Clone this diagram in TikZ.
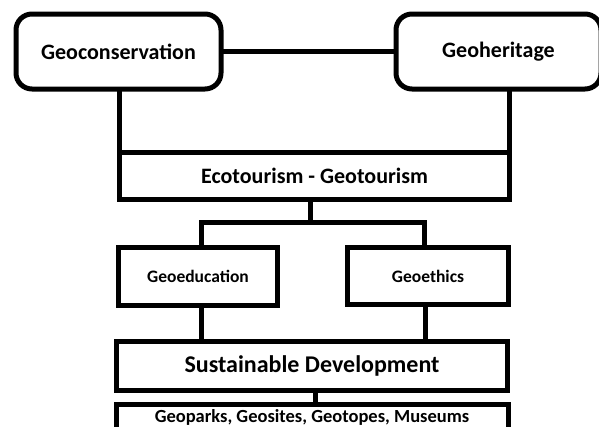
\documentclass[tikz,border=0pt]{standalone}
\usepackage{fontspec}
\setmainfont{Carlito}
\usetikzlibrary{calc}

\begin{document}
\begin{tikzpicture}[
        x=1pt, y=-1pt,
        box/.style={draw, line width=5pt, outer sep=0pt, inner sep=0pt},
        roundbox/.style={box, rounded corners=16pt},
        link/.style={line width=5pt},
        bigtext/.style={font=\bfseries\fontsize{22}{26}\selectfont},
        midtext/.style={font=\bfseries\fontsize{17.5}{21}\selectfont},
        smalltext/.style={font=\bfseries\fontsize{18.5}{22}\selectfont}
    ]
        \useasboundingbox (0,0) rectangle (599,426);

        % Top boxes
        \node[roundbox, bigtext, minimum width=205pt, minimum height=75pt] (geocons) at (118.5,51.5) {Geoconservation};
        \node[roundbox, bigtext, minimum width=205pt, minimum height=75pt] (geoher) at (498.5,51.5) {Geoheritage};

        % Middle boxes
        \node[box, bigtext, minimum width=390pt, minimum height=47.5pt] (eco) at (314.5,176) {Ecotourism - Geotourism};
        \node[box, midtext, minimum width=158.5pt, minimum height=58pt] (geoedu) at (198,276.5) {Geoeducation};
        \node[box, midtext, minimum width=161pt, minimum height=57pt] (geoeth) at (428,276) {Geoethics};

        % Bottom boxes (last one runs off the page)
        \node[box, font=\bfseries\fontsize{24}{28}\selectfont, minimum width=391.5pt, minimum height=48.5pt] (sust) at (312,366) {Sustainable Development};
        \node[box, smalltext, minimum width=392pt, text height=17.5pt, text depth=12pt, anchor=north] (geoparks) at (312,404.5) {Geoparks, Geosites, Geotopes, Museums};

        % Connections
        \coordinate (branch) at (310.5,222.5);
        \draw[link] (geocons.east) -- (geoher.west);
        \draw[link] (geocons.south -| eco.west) -- (eco.north west);
        \draw[link] (geoher.south -| eco.east) -- (eco.north east);
        \draw[link] (eco.south -| branch) -- (branch);
        \draw[link] ([xshift=3.5pt]geoedu.north) |- (branch) -| ([xshift=-3.5pt]geoeth.north);
        \draw[link] ([xshift=3.5pt]geoedu.south) -- ([xshift=3.5pt]geoedu.south |- sust.north);
        \draw[link] ([xshift=-2.5pt]geoeth.south) -- ([xshift=-2.5pt]geoeth.south |- sust.north);
        \draw[link] ([xshift=3pt]sust.south) -- ([xshift=3pt]sust.south |- geoparks.north);
    \end{tikzpicture}
\end{document}
